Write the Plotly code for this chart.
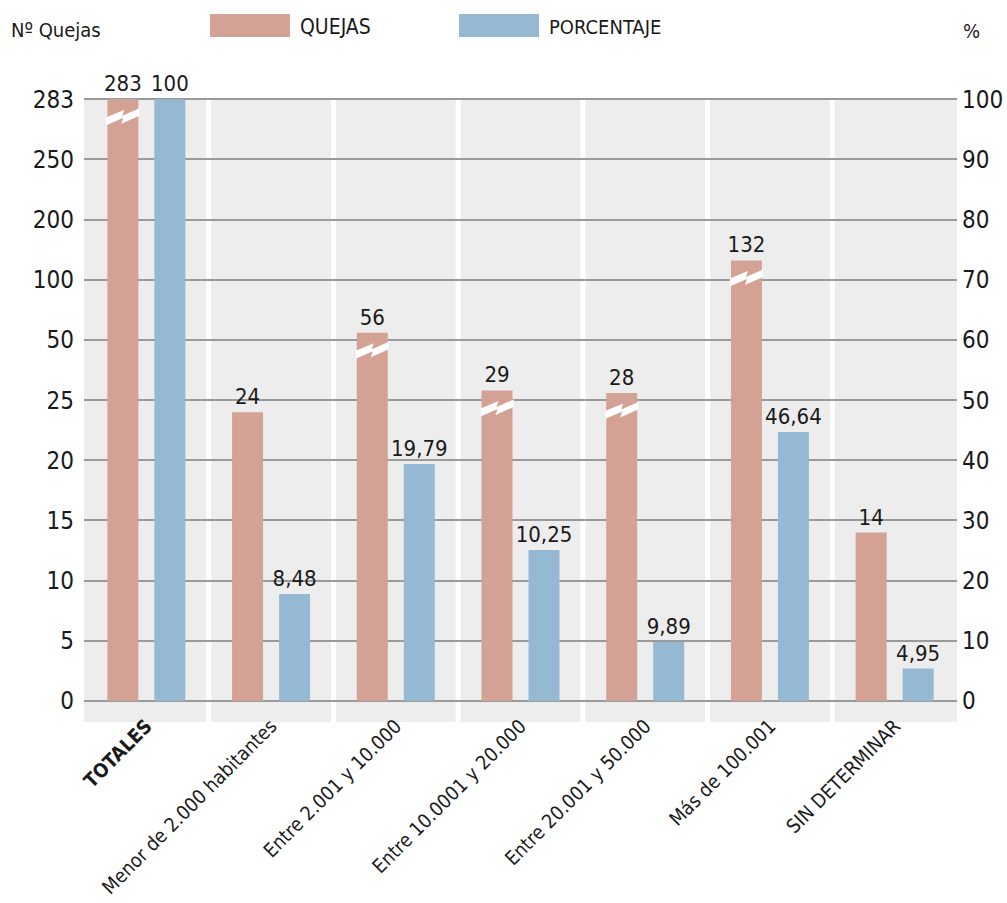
import numpy as np
import plotly.graph_objects as go

# ---------------- data ----------------
categorias = ["<b>TOTALES</b>", "Menor de 2.000 habitantes", "Entre 2.001 y 10.000",
              "Entre 10.0001 y 20.000", "Entre 20.001 y 50.000", "Más de 100.001",
              "SIN DETERMINAR"]
quejas = [283, 24, 56, 29, 28, 132, 14]
quejas_cortada = [True, False, True, True, True, True, False]
porcentaje = [100, 8.48, 19.79, 10.25, 9.89, 46.64, 4.95]
# heights of the percentage bars as drawn in the reference, read on the right (%) axis
porcentaje_altura = [100, 17.8, 39.4, 25.1, 9.8, 44.7, 5.4]

ticks_quejas = [0, 5, 10, 15, 20, 25, 50, 100, 200, 250, 283]
ticks_pct = [0, 10, 20, 30, 40, 50, 60, 70, 80, 90, 100]

# ---------------- style ----------------
FONT = "DejaVu Sans Condensed, DejaVu Sans, sans-serif"
C_Q = "#D4A295"
C_P = "#95B9D3"
BG = "#EDEDED"
GRID = "#9A9A9A"
TXT = "#1a1a1a"

W, H = 1007, 903
ML, MR, MT, MB = 84, 50, 98, 181
PW, PH = W - ML - MR, H - MT - MB
n = len(categorias)
px_per_x = PW / n
bar_w = 31 / px_per_x
off_c = 23.5 / px_per_x

x_idx = np.arange(n)
# left axis is a broken scale: piecewise mapping of complaint counts onto tick positions
quejas_pos = np.interp(quejas, ticks_quejas, ticks_pct)

def fmt(v):
    return ("%g" % v).replace(".", ",")

fig = go.Figure()
fig.add_trace(go.Bar(
    x=x_idx, y=quejas_pos, width=bar_w, offset=-off_c - bar_w / 2,
    marker=dict(color=C_Q, line=dict(width=0)),
    text=[str(v) for v in quejas], textposition="outside", textangle=0,
    constraintext="none", cliponaxis=False,
    textfont=dict(family=FONT, size=22, color=TXT),
    name="QUEJAS", showlegend=False, yaxis="y", hoverinfo="skip"))
fig.add_trace(go.Bar(
    x=x_idx, y=porcentaje_altura, width=bar_w, offset=off_c - bar_w / 2,
    marker=dict(color=C_P, line=dict(width=0)),
    text=[fmt(v) for v in porcentaje], textposition="outside", textangle=0,
    constraintext="none", cliponaxis=False,
    textfont=dict(family=FONT, size=22, color=TXT),
    name="PORCENTAJE", showlegend=False, yaxis="y2", hoverinfo="skip"))

shapes = []
# white separators between categories
for k in range(n - 1):
    shapes.append(dict(type="line", xref="x", yref="paper", x0=k + 0.5, x1=k + 0.5,
                       y0=0, y1=1.002, line=dict(color="white", width=5), layer="below"))
# break marks on the cut bars
for i in range(n):
    if quejas_cortada[i]:
        shapes.append(dict(
            type="path", xref="x", yref="y", xsizemode="pixel", ysizemode="pixel",
            xanchor=float(i - off_c - bar_w / 2), yanchor=float(quejas_pos[i]),
            path="M -1,-18 L 17,-10.5 L 15,-16.5 L 32,-9 L 32,-16.5 L 14,-24.5 L 16,-18.5 L -1,-26 Z",
            fillcolor="white", line=dict(width=0), layer="above"))

def px2paper_x(px):
    return (px - ML) / PW

def px2paper_y(py):
    return (H - MB - py) / PH

# custom legend
for (x0, x1, col) in [(210, 290, C_Q), (459, 539, C_P)]:
    shapes.append(dict(type="rect", xref="paper", yref="paper",
                       x0=px2paper_x(x0), x1=px2paper_x(x1),
                       y0=px2paper_y(37), y1=px2paper_y(14),
                       fillcolor=col, line=dict(width=0)))

annotations = [
    dict(text="QUEJAS", x=px2paper_x(298), y=px2paper_y(27), xref="paper", yref="paper",
         xanchor="left", yanchor="middle", showarrow=False,
         font=dict(family=FONT, size=21, color=TXT)),
    dict(text="PORCENTAJE", x=px2paper_x(547), y=px2paper_y(27), xref="paper", yref="paper",
         xanchor="left", yanchor="middle", showarrow=False,
         font=dict(family=FONT, size=20, color=TXT)),
    dict(text="Nº Quejas", x=px2paper_x(9), y=px2paper_y(30), xref="paper", yref="paper",
         xanchor="left", yanchor="middle", showarrow=False,
         font=dict(family=FONT, size=20, color=TXT)),
    dict(text="%", x=px2paper_x(961), y=px2paper_y(31), xref="paper", yref="paper",
         xanchor="left", yanchor="middle", showarrow=False,
         font=dict(family=FONT, size=20, color=TXT)),
]

yr = [-3.49, 100.2]
fig.update_layout(
    width=W, height=H, margin=dict(l=ML, r=MR, t=MT, b=MB, pad=0, autoexpand=False),
    paper_bgcolor="white", plot_bgcolor=BG,
    barmode="overlay", showlegend=False,
    font=dict(family=FONT, color=TXT),
    xaxis=dict(range=[-0.5, n - 0.5], tickmode="array", tickvals=list(x_idx),
               ticktext=categorias, tickangle=-45, showgrid=False, zeroline=False,
               showline=False, ticks="", automargin=False, ticklabelstandoff=-12,
               tickfont=dict(family=FONT, size=19.5, color=TXT)),
    yaxis=dict(range=yr, tickmode="array", tickvals=ticks_pct,
               ticktext=[str(v) for v in ticks_quejas], showgrid=True, gridcolor=GRID,
               gridwidth=2, zeroline=False, showline=False, ticks="", automargin=False,
               ticklabelstandoff=9, tickfont=dict(family=FONT, size=24, color=TXT)),
    yaxis2=dict(range=yr, overlaying="y", side="right", tickmode="array",
                tickvals=ticks_pct, ticktext=[str(v) for v in ticks_pct],
                showgrid=False, zeroline=False, showline=False, ticks="", automargin=False,
                ticklabelstandoff=4, tickfont=dict(family=FONT, size=24, color=TXT)),
    shapes=shapes, annotations=annotations,
)

fig.write_html("out.html")
